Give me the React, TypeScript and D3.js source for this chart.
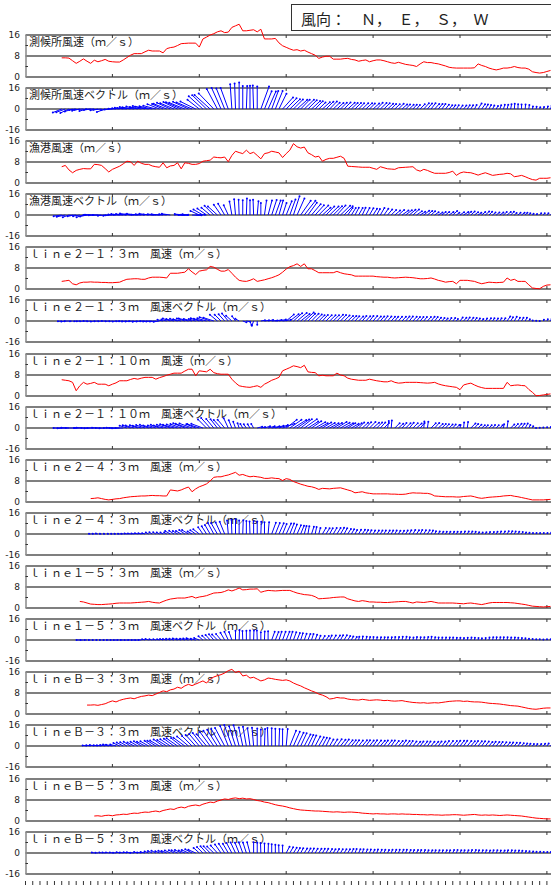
import React from "react";
import * as d3 from "d3";

// ---------- data (hourly, hour index from start of day 1) ----------
const speedTitles = [
  "測候所風速（ｍ／ｓ）",
  "漁港風速（ｍ／ｓ）",
  "ｌｉｎｅ２－１：３ｍ　風速（ｍ／ｓ）",
  "ｌｉｎｅ２－１：１０ｍ　風速（ｍ／ｓ）",
  "ｌｉｎｅ２－４：３ｍ　風速（ｍ／ｓ）",
  "ｌｉｎｅ１－５：３ｍ　風速（ｍ／ｓ）",
  "ｌｉｎｅＢ－３：３ｍ　風速（ｍ／ｓ）",
  "ｌｉｎｅＢ－５：３ｍ　風速（ｍ／ｓ）",
];
const vectorTitles = [
  "測候所風速ベクトル（ｍ／ｓ）",
  "漁港風速ベクトル（ｍ／ｓ）",
  "ｌｉｎｅ２－１：３ｍ　風速ベクトル（ｍ／ｓ）",
  "ｌｉｎｅ２－１：１０ｍ　風速ベクトル（ｍ／ｓ）",
  "ｌｉｎｅ２－４：３ｍ　風速ベクトル（ｍ／ｓ）",
  "ｌｉｎｅ１－５：３ｍ　風速ベクトル（ｍ／ｓ）",
  "ｌｉｎｅＢ－３：３ｍ　風速ベクトル（ｍ／ｓ）",
  "ｌｉｎｅＢ－５：３ｍ　風速ベクトル（ｍ／ｓ）",
];
const startHours = [10, 10, 10, 10, 18, 15, 17, 19];
const speedTicks = ["16", "8", "0"];
const vectorTicks = ["16", "0", "-16"];
const legendText = "風向：　Ｎ，　Ｅ，　Ｓ，　Ｗ";

const sokkoujoSpeed = [7.3,7.3,7.2,6.2,5.2,6.0,6.9,6.0,5.2,6.4,
 5.8,6.2,6.7,6.0,5.8,5.7,5.7,6.5,7.4,8.3,
 8.9,8.9,8.9,9.6,10.2,9.9,9.9,9.9,9.2,10.8,
 11.2,11.4,12.0,12.7,12.8,12.9,12.9,12.9,11.4,14.5,
 15.2,16.0,16.5,17.2,17.6,16.9,17.1,18.9,19.5,20.1,
 17.6,17.6,17.8,18.0,17.2,18.2,14.5,14.5,14.5,14.7,
 13.0,11.9,11.3,10.7,10.2,10.4,9.9,10.2,9.5,8.9,
 8.3,7.1,7.6,7.9,7.9,6.8,6.8,6.8,7.0,7.1,
 6.7,6.5,6.0,6.3,6.5,5.8,6.2,6.5,6.5,6.2,
 5.8,5.4,5.2,5.6,5.2,4.8,4.6,4.4,4.0,5.0,
 5.8,5.5,5.5,5.2,5.0,4.6,4.2,3.7,3.5,3.4,
 3.4,3.4,3.4,3.4,3.5,5.0,4.4,4.0,3.4,3.0,
 2.7,3.0,3.4,3.4,3.6,4.0,3.6,3.4,3.4,3.0,
 2.0,1.7,1.5,1.7,2.1,2.5];
const sokkoujoDir = [248,250,245,252,
 262,258,265,255,262,268,260,264,250,262,266,
 272,275,278,276,280,278,282,280,284,280,282,285,
 292,294,292,295,293,296,294,292,295,293,296,
 308,312,314,312,316,
 332,336,338,340,
 356,358,0,0,2,0,358,0,
 20,22,24,20,22,26,
 42,44,46,45,48,44,46,45,47,44,46,48,45,44,46,47,45,44,48,46,45,44,46,47,45,48,44,46,45,47,44,46,45,48,44,46,42,40,44,42,
 40,38,42,40,36,38,40,35,32,36,38,34,30,28,32,35,30,28,26,30,
 20,18,15,10,5,2,0,5,8,12,15,18,20,22,20];

const gyokouSpeed = [6.2,6.7,5.0,3.9,4.8,5.2,5.5,5.4,5.4,7.1,
 7.0,6.7,5.5,4.2,5.2,5.8,6.4,7.3,8.3,8.1,
 6.7,8.3,7.5,7.1,7.1,6.5,6.2,6.0,7.7,5.8,
 6.5,6.7,7.7,5.4,7.7,7.5,7.1,7.1,7.4,8.3,
 8.5,8.7,9.9,9.7,9.6,9.9,8.1,10.5,12.1,11.6,
 11.2,12.5,11.2,11.7,10.5,9.2,11.2,11.5,12.1,11.8,
 11.5,9.7,11.2,12.5,15.0,13.8,13.3,13.7,11.5,10.8,
 9.9,10.2,8.3,9.0,9.4,9.4,9.8,10.2,9.4,6.4,
 6.3,6.2,6.1,6.0,6.0,6.0,5.6,5.2,6.2,5.8,
 5.4,5.3,5.2,5.8,5.9,6.0,6.1,6.2,5.0,4.5,
 5.2,4.8,4.2,3.7,3.7,3.7,3.7,4.0,4.5,2.9,
 3.8,4.2,4.0,3.9,3.5,3.0,3.5,3.9,3.4,2.9,
 3.1,3.3,3.4,3.7,3.5,2.4,2.6,2.9,2.4,1.8,
 1.3,1.1,1.8,1.8,1.8,2.0];
const gyokouDir = [262,258,250,255,265,260,252,258,
 270,272,268,270,265,262,268,
 274,276,272,275,278,274,276,272,275,278,274,276,275,272,276,278,
 85,90,88,275,270,92,88,
 295,300,305,310,315,312,
 325,330,335,
 350,355,358,0,2,0,358,5,0,8,
 15,18,20,16,18,22,20,18,24,
 35,38,36,40,42,
 45,48,44,46,45,42,46,44,35,32,
 28,30,25,28,30,32,28,30,35,40,
 45,50,48,55,52,50,48,55,58,52,50,48,55,60,52,50,55,48,52,55,
 58,50,48,52,55,50,48,45,50,52,55,48,50,45,48,50,52,45,40,42,
 45,40,38,40,42];

const line21m3Speed = [2.9,3.1,3.3,2.0,1.6,2.3,2.6,2.6,2.7,2.6,
 2.6,2.5,2.5,2.4,2.4,2.5,2.6,3.2,3.7,3.8,
 3.9,3.9,3.7,3.7,4.2,4.5,4.5,4.5,4.4,4.2,
 6.0,6.0,6.0,6.2,6.4,7.7,6.5,5.5,6.8,7.1,
 7.3,8.6,8.3,7.5,6.8,6.8,7.4,6.0,4.5,3.3,
 3.0,2.9,3.3,3.9,2.9,3.2,3.5,3.9,4.3,4.8,
 5.4,6.4,7.6,8.5,8.9,9.6,8.6,9.6,7.7,7.7,
 7.0,6.2,6.2,6.2,6.2,6.2,6.7,6.2,5.8,5.6,
 5.4,4.9,4.9,4.9,4.9,4.9,4.9,4.7,4.6,4.5,
 4.5,4.3,4.2,4.3,4.4,4.5,4.4,4.3,4.1,3.9,
 3.9,4.0,4.2,3.8,3.3,3.0,2.6,2.8,2.9,2.0,
 3.3,3.3,3.3,3.1,2.9,2.4,2.0,2.3,2.6,2.5,
 2.4,2.5,2.6,4.2,3.3,3.7,2.9,2.9,2.9,1.6,
 0.4,0.2,0.1,1.0,1.5,1.6];
const line21m3Dir = [265,262,268,265,260,266,264,268,265,262,266,265,268,264,265,262,266,268,265,264,266,262,265,268,264,266,265,262,
 282,285,288,284,286,282,288,285,284,286,288,284,286,290,288,
 310,315,318,320,312,
 325,300,110,100,160,200,180,
 80,82,78,85,80,78,82,
 50,52,48,50,52,48,
 45,44,46,45,42,44,46,45,44,43,45,46,44,42,45,
 40,42,38,40,42,40,38,40,42,38,40,42,40,38,42,40,40,38,42,40,
 38,40,42,40,38,40,36,38,40,35,38,36,35,38,35,36,34,35,32,34,
 35,32,30,32,30,28,30,32,30,28,30,28,30];

const line21m10Speed = [6.2,6.0,5.8,5.2,2.0,3.9,5.2,4.5,4.8,5.2,
 4.5,4.5,4.5,3.9,4.5,5.0,5.8,5.8,5.8,6.3,
 6.7,6.4,6.8,7.1,7.1,7.1,6.4,7.0,7.4,7.9,
 8.3,8.7,8.7,8.7,9.5,10.2,10.2,7.7,9.6,9.4,
 9.2,10.2,8.9,8.5,8.3,8.3,8.3,6.4,5.0,3.9,
 3.6,3.4,3.3,3.6,3.9,3.3,4.5,5.2,6.0,6.5,
 7.1,9.6,10.2,10.8,11.5,11.2,10.8,11.7,9.2,9.0,
 8.9,7.7,7.9,7.7,7.7,7.7,8.7,8.0,7.7,6.8,
 6.4,6.2,6.0,6.0,6.0,6.4,6.1,5.8,5.6,5.4,
 5.4,5.8,5.2,4.9,5.0,5.2,5.2,5.2,5.2,5.1,
 5.0,4.9,5.0,5.2,4.6,4.2,3.9,3.7,3.5,3.3,
 2.4,4.2,4.6,4.9,4.2,3.6,3.2,2.9,2.9,2.9,
 2.9,2.9,2.9,5.2,3.9,4.1,4.2,4.0,3.9,2.5,
 1.4,0.1,0.2,0.4,0.6,0.8];
const line21m10Dir = [270,268,272,270,268,270,272,270,268,270,272,270,268,270,272,270,268,270,
 288,290,286,290,
 285,288,290,286,288,290,285,288,290,286,288,290,292,288,290,292,288,290,
 315,318,320,322,318,320,
 335,338,340,342,330,325,328,330,
 75,78,72,75,78,75,72,70,
 52,55,58,55,52,55,58,55,
 60,62,58,60,62,60,58,60,62,58,60,55,
 45,48,42,45,48,45,42,45,10,5,45,48,42,45,40,45,48,42,5,8,
 45,42,48,45,42,45,40,45,10,5,8,45,42,45,48,42,45,40,42,45,
 10,8,45,42,40,35,30,28,25,20,15,10,15,20];

const line24Speed = [1.3,1.4,
 1.6,1.3,1.0,0.8,1.0,1.2,1.3,1.6,1.8,2.0,
 2.1,2.2,2.3,2.3,2.4,2.5,2.4,2.4,2.3,2.3,
 4.6,4.4,4.2,4.6,5.2,5.7,3.9,5.0,5.8,6.3,
 6.9,8.0,9.4,9.6,9.6,10.0,10.3,10.8,11.3,10.2,
 10.5,10.0,9.6,9.8,9.6,9.4,9.0,9.0,9.2,9.0,
 8.9,8.2,8.9,8.6,7.8,7.3,6.8,6.4,6.0,5.8,
 5.4,4.8,5.2,5.1,5.0,5.2,5.3,5.4,5.0,4.6,
 4.2,3.5,3.7,3.9,3.5,3.3,3.1,3.1,3.1,3.1,
 3.1,3.0,3.0,2.9,2.9,3.0,3.3,3.5,3.4,3.4,
 3.3,3.3,3.0,2.3,2.2,2.1,2.0,2.0,2.0,1.9,
 1.9,2.1,2.2,2.3,2.0,1.6,1.4,1.6,1.8,1.9,
 2.0,2.1,2.3,2.4,2.5,2.2,2.0,1.7,1.4,1.1,
 0.8,0.8,0.8,0.8,0.9,1.0];
const line24Dir = [280,278,282,280,278,282,280,278,282,280,284,282,280,284,282,286,
 298,300,302,300,298,302,300,304,302,300,305,302,300,305,308,
 325,328,330,332,330,335,338,
 355,358,0,0,2,0,358,0,0,2,0,5,
 20,22,24,22,25,22,20,24,22,
 15,10,18,12,15,
 30,32,28,30,32,30,28,32,30,28,30,33,30,27,30,32,31,28,32,30,
 28,30,32,31,28,30,33,28,30,32,30,27,30,32,29,28,32,30,28,30,
 32,30,28,31,32,30,28,32,30,28,31,32,30,28,30,32,30,29,32,30,
 28,30,32,30];

const line15Speed = [2.5,2.3,1.9,1.5,1.4,
 1.3,1.3,1.4,1.5,1.6,1.8,1.9,1.9,1.9,1.9,
 2.0,2.1,2.2,2.3,2.5,2.2,2.0,1.9,2.5,3.0,
 3.4,3.6,3.8,3.8,3.8,4.1,4.4,3.8,4.2,4.4,
 4.7,5.2,5.7,5.8,5.9,6.3,6.9,6.5,7.0,7.6,
 6.9,7.0,7.2,7.2,7.3,6.0,6.4,6.7,6.6,6.5,
 6.6,6.7,6.7,6.7,6.2,5.7,5.4,5.1,5.0,4.8,
 4.3,3.5,3.6,3.7,3.8,4.0,4.1,4.2,4.2,3.5,
 3.1,2.7,2.5,2.8,2.6,2.3,2.3,2.2,2.2,2.1,
 2.1,2.2,2.3,2.4,2.5,2.5,2.2,1.9,2.3,2.2,
 2.1,2.3,2.5,2.2,1.9,1.9,1.9,1.9,1.9,1.8,
 1.7,1.6,1.8,1.9,1.7,1.5,1.3,1.6,1.9,2.1,
 2.1,2.1,2.1,2.1,2.0,1.9,1.7,1.5,1.3,1.0,
 0.7,0.6,0.5,0.4,0.5,0.6];
const line15Dir = [270,268,272,270,268,272,270,268,272,270,268,272,270,268,272,270,268,272,
 285,288,284,286,285,288,284,286,285,288,284,286,285,288,284,290,
 310,315,318,320,316,320,
 330,335,340,
 0,2,358,0,0,2,358,0,2,0,
 20,22,18,20,22,18,20,22,18,20,22,18,20,22,
 30,35,25,30,35,28,30,32,28,30,
 12,10,15,12,8,10,14,15,10,12,8,11,12,15,10,13,8,10,12,16,
 10,12,8,10,13,15,10,12,9,10,12,15,11,12,8,10,12,14,10,12,
 8,10,12,15,10,12,9,10,12,15,10,12,8,10];

const lineB3Speed = [3.4,3.4,3.5,
 3.3,3.6,3.9,4.5,5.0,4.6,5.2,5.6,5.9,6.1,
 5.8,6.3,6.7,6.9,7.2,7.0,7.6,8.2,8.8,8.5,
 9.2,9.5,10.2,9.8,10.7,11.3,10.8,11.4,12.0,12.6,
 11.8,13.3,14.1,14.6,15.0,15.6,16.5,17.0,15.8,16.3,
 14.5,14.8,13.7,14.0,13.3,12.6,13.0,13.7,13.5,13.2,
 13.0,12.8,13.0,12.6,11.8,11.2,10.7,10.0,9.4,8.8,
 8.3,7.6,7.2,6.6,5.7,5.9,6.3,6.1,6.1,5.7,
 5.5,5.4,5.3,5.6,5.4,5.2,5.3,5.4,5.3,5.1,
 5.2,5.0,4.9,5.0,5.1,4.8,4.6,4.4,4.3,4.2,
 4.3,4.1,4.2,4.3,4.2,4.4,4.6,4.8,4.9,5.0,
 5.0,4.8,4.9,4.7,4.6,4.6,4.5,4.3,4.1,4.0,
 3.9,3.8,3.6,3.4,3.2,3.1,3.0,2.7,2.4,2.1,
 1.9,1.8,2.0,2.2,2.3,2.3];
const lineB3Dir = [278,280,282,280,278,282,284,282,285,
 295,298,300,302,298,300,302,298,300,304,302,300,305,302,304,306,305,308,306,310,
 315,318,320,322,320,324,326,328,330,332,
 338,340,342,345,348,350,352,355,
 0,0,2,358,0,0,2,0,5,
 22,24,26,25,28,26,24,28,30,28,26,30,32,
 35,38,36,40,38,35,38,40,36,38,35,38,40,36,38,34,38,40,36,38,
 35,38,41,36,38,35,38,40,36,37,35,38,40,36,38,35,39,40,36,38,
 35,38,40,36,38,35,38,40,36,38,35,38,40,36,38,35,38,40,36,38];

const lineB5Speed = [1.9,
 2.0,1.8,2.1,2.2,2.0,2.3,2.4,2.6,2.5,2.8,
 3.0,2.9,3.2,3.4,3.3,3.6,3.8,3.5,4.0,4.3,
 4.6,4.4,5.0,5.3,5.0,5.6,5.9,6.1,5.8,6.4,
 6.8,7.2,7.0,7.6,8.0,8.4,8.2,8.6,8.8,8.5,
 8.7,8.4,8.5,8.2,7.8,7.6,7.2,7.0,6.6,6.2,
 5.9,5.7,5.4,5.0,4.7,4.4,4.2,4.1,4.0,3.9,
 3.8,3.8,3.7,3.6,3.5,3.4,3.5,3.4,3.3,3.4,
 3.4,3.3,3.2,3.0,2.9,2.8,2.7,2.8,2.7,2.7,
 2.6,2.7,2.7,2.6,2.7,2.6,2.6,2.5,2.5,2.4,
 2.4,2.3,2.4,2.3,2.3,2.2,2.3,2.3,2.4,2.4,
 2.3,2.2,2.3,2.4,2.5,2.3,2.2,2.3,2.2,2.3,
 2.2,2.1,2.2,2.3,2.2,2.1,2.0,1.9,1.7,1.5,
 1.3,1.1,1.0,0.9,0.8,0.8];
const lineB5Dir = [280,275,285,278,282,280,275,285,278,282,280,275,285,278,282,
 292,295,298,294,296,292,295,298,294,296,292,295,298,294,
 312,315,318,316,314,318,
 325,328,330,332,335,338,340,342,345,
 0,0,358,0,2,0,0,358,0,
 28,30,32,30,28,32,30,28,30,32,30,28,32,30,28,30,32,30,28,
 22,25,20,24,22,25,20,24,22,25,21,24,22,25,20,24,22,26,20,24,
 22,25,20,24,23,25,20,24,22,25,20,24,22,25,20,23,22,25,20,24,
 22,25,20,24,22,25,20,24,22,26,20,24,22,25,20];

const stationSpeeds = [sokkoujoSpeed, gyokouSpeed, line21m3Speed, line21m10Speed, line24Speed, line15Speed, lineB3Speed, lineB5Speed];
const stationDirs = [sokkoujoDir, gyokouDir, line21m3Dir, line21m10Dir, line24Dir, line15Dir, lineB3Dir, lineB5Dir];

// ---------- layout ----------
const W = 551;
const H = 885;
const X0 = 25.5;
const DAY_PX = 86.9;
const PANEL_H = 42;
const panelTop = (k: number) => Math.round(34.8 + 53.13 * k);
const CJK = "'Noto Sans CJK JP', 'Noto Sans', sans-serif";
const NUM = "'DejaVu Sans', sans-serif";

const x = d3.scaleLinear().domain([0, 24]).range([X0, X0 + DAY_PX]);
const majorHours = d3.range(24, 168, 24);
const minorHours = d3.range(0, 152, 2);

function Frame({ top, labels, minor }: { top: number; labels: string[]; minor: number[] }) {
  const bottom = top + PANEL_H;
  const mid = top + PANEL_H / 2;
  return (
    <g>
      <line x1={X0} x2={W} y1={top} y2={top} stroke="#555" strokeWidth={1.5} />
      <line x1={X0} x2={W} y1={bottom} y2={bottom} stroke="#555" strokeWidth={1.5} />
      <line x1={X0} x2={W} y1={mid} y2={mid} stroke="#000" strokeWidth={1.2} />
      <line x1={X0 + 0.5} x2={X0 + 0.5} y1={top} y2={bottom} stroke="#888" strokeWidth={1.5} />
      {minor.map((y, i) => (
        <line key={i} x1={X0} x2={X0 + 2.5} y1={y} y2={y} stroke="#333" strokeWidth={1} />
      ))}
      {majorHours.map((h) => (
        <g key={h}>
          <line x1={x(h)} x2={x(h)} y1={top} y2={top + 3} stroke="#333" strokeWidth={1} />
          <line x1={x(h)} x2={x(h)} y1={bottom - 3} y2={bottom} stroke="#333" strokeWidth={1} />
        </g>
      ))}
      {[top, mid, bottom].map((y, i) => (
        <text key={i} x={20} y={y} dy="0.35em" textAnchor="end" fontSize={9} fontFamily={NUM} fill="#222">
          {labels[i]}
        </text>
      ))}
    </g>
  );
}

function SpeedPanel({ idx }: { idx: number }) {
  const top = panelTop(idx * 2);
  const y = d3.scaleLinear().domain([0, 16]).range([top + PANEL_H, top]);
  const start = startHours[idx];
  const data = stationSpeeds[idx].map((v, i) => [start + i, v] as [number, number]);
  const path = d3.line<[number, number]>().x((d) => x(d[0])).y((d) => y(d[1]))(data) || "";
  return (
    <g>
      <Frame top={top} labels={speedTicks} minor={[y(4), y(12)]} />
      <text x={29} y={top + 11} fontSize={11} fontFamily={CJK} fill="#222">{speedTitles[idx]}</text>
      <path d={path} fill="none" stroke="#ff0000" strokeWidth={1} />
    </g>
  );
}

function VectorPanel({ idx }: { idx: number }) {
  const top = panelTop(idx * 2 + 1);
  const y = d3.scaleLinear().domain([-16, 16]).range([top + PANEL_H, top]);
  const k = PANEL_H / 32;
  const start = startHours[idx];
  const sp = stationSpeeds[idx];
  const dr = stationDirs[idx];
  const n = Math.min(sp.length, dr.length);
  const sticks = d3.range(n).map((i) => {
    const a = (dr[i] * Math.PI) / 180;
    const x0 = x(start + i);
    return { x0, y0: y(0), x1: x0 + sp[i] * Math.sin(a) * k, y1: y(sp[i] * Math.cos(a)) };
  });
  return (
    <g>
      <Frame top={top} labels={vectorTicks} minor={[y(8), y(-8)]} />
      <text x={29} y={top + 11} fontSize={11} fontFamily={CJK} fill="#222">{vectorTitles[idx]}</text>
      {sticks.map((s, i) => (
        <g key={i}>
          <line x1={s.x0} y1={s.y0} x2={s.x1} y2={s.y1} stroke="#0000ff" strokeWidth={1} />
          <circle cx={s.x1} cy={s.y1} r={1} fill="#0000ff" />
        </g>
      ))}
    </g>
  );
}

export default function App() {
  return (
    <svg
      width={W}
      height={H}
      viewBox={`0 0 ${W} ${H}`}
      style={{ position: "absolute", left: 0, top: 0, background: "#fff" }}
    >
      <rect x={0} y={0} width={W} height={H} fill="#fff" />
      <rect x={291.5} y={4.5} width={300} height={26} fill="none" stroke="#333" strokeWidth={1} />
      <text x={301} y={25} fontSize={15} fontFamily={CJK} fill="#222">{legendText}</text>
      {speedTitles.map((_, i) => (
        <g key={i}>
          <SpeedPanel idx={i} />
          <VectorPanel idx={i} />
        </g>
      ))}
      {minorHours.map((h) => (
        <line key={h} x1={x(h)} x2={x(h)} y1={881} y2={885} stroke="#333" strokeWidth={1} />
      ))}
    </svg>
  );
}
